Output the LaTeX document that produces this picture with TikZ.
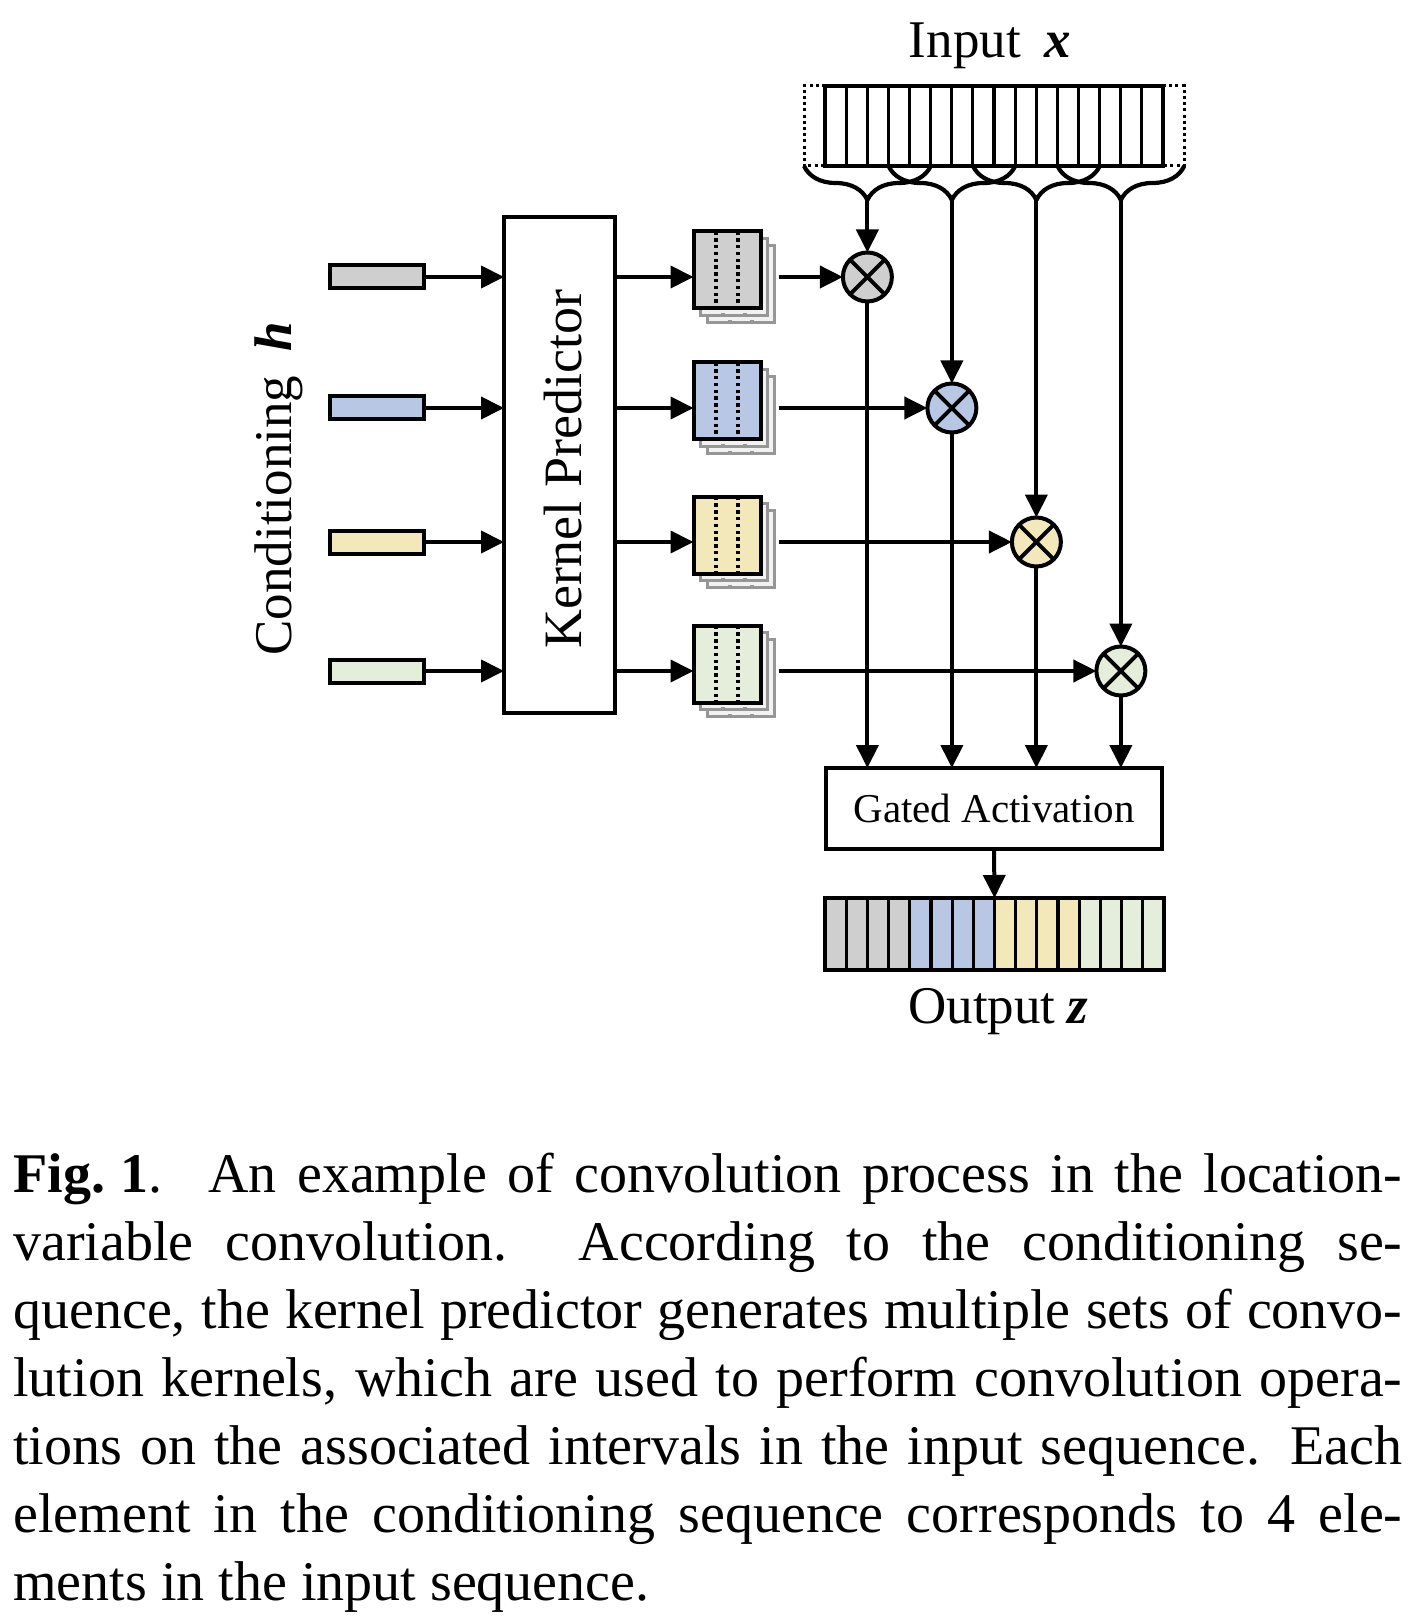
\documentclass[tikz,border=0pt]{standalone}
\usepackage{fontspec}
\setmainfont{Liberation Serif}
\usepackage{graphicx}
\usetikzlibrary{arrows.meta,calc,decorations.pathreplacing}
\definecolor{kgray}{RGB}{208,207,208}
\definecolor{kblue}{RGB}{183,199,228}
\definecolor{kyellow}{RGB}{242,232,185}
\definecolor{kgreen}{RGB}{229,238,218}
\definecolor{sheetline}{RGB}{150,150,150}
\definecolor{sheetfill}{RGB}{242,242,242}
\tikzset{
  wire/.style={line width=2pt},
  arr/.style={wire,-{Triangle[length=11.5pt,width=11pt]}},
  cell/.style={line width=1.6pt},
  pad/.style={line width=1.5pt,dash pattern=on 1.5pt off 1.6pt},
  brace/.style={line width=2.1pt,decorate,decoration={brace,mirror,amplitude=17pt}},
  seqbox/.style={draw,line width=1.6pt,inner sep=0pt,outer sep=0pt},
  condbar/.style={draw,line width=2pt,minimum width=47pt,minimum height=11.5pt,inner sep=0pt,outer sep=0pt},
  kernbox/.style={draw,line width=2pt,minimum width=33.5pt,minimum height=38.5pt,inner sep=0pt,outer sep=0pt},
  kernsheet/.style={draw=sheetline,fill=sheetfill,line width=1.3pt,minimum width=33.5pt,minimum height=38.5pt,inner sep=0pt,outer sep=0pt},
  mulnode/.style={draw,circle,line width=2pt,minimum size=24.5pt,inner sep=0pt,outer sep=0pt},
  bigtext/.style={inner sep=0pt,font=\fontsize{26.5}{30}\selectfont},
  capline/.style={anchor=base west,inner sep=0pt,font=\fontsize{28}{34}\selectfont},
}
% dotted kernel taps at one and two thirds of a kernel sheet
\newcommand{\kerndots}[2]{%
  \draw[#2,line width=1.7pt,dash pattern=on 1.7pt off 1.7pt]
    ($(#1.north west)!1/3!(#1.north east)$) -- ($(#1.south west)!1/3!(#1.south east)$)
    ($(#1.north west)!2/3!(#1.north east)$) -- ($(#1.south west)!2/3!(#1.south east)$);}
\begin{document}
\begin{tikzpicture}[x=0.5pt,y=-0.5pt]
\fill[white] (0,0) rectangle (1424,1620);
\useasboundingbox (0,0) rectangle (1424,1620);
% Drawing input sequence
\node[bigtext,anchor=base] (inlabel) at (990,58) {Input\hspace{0.45em}\textbf{\textit{x}}};
\draw[pad] (825,86) -- (804,86) -- (804,166) -- (825,166);
\draw[pad] (1163,86) -- (1184,86) -- (1184,166) -- (1163,166);
\node[seqbox,minimum width=169pt,minimum height=40pt] (in) at (994,126) {};
\draw[cell] (846.125,86) -- (846.125,166) (867.25,86) -- (867.25,166) (888.375,86) -- (888.375,166)
  (909.5,86) -- (909.5,166) (930.625,86) -- (930.625,166) (951.75,86) -- (951.75,166)
  (972.875,86) -- (972.875,166) (994,86) -- (994,166) (1015.125,86) -- (1015.125,166)
  (1036.25,86) -- (1036.25,166) (1057.375,86) -- (1057.375,166) (1078.5,86) -- (1078.5,166)
  (1099.625,86) -- (1099.625,166) (1120.75,86) -- (1120.75,166) (1141.875,86) -- (1141.875,166);
% Windows of six cells, stride four
\draw[brace] (804,166) -- (930.75,166);
\draw[brace] (888.5,166) -- (1015.25,166);
\draw[brace] (973,166) -- (1099.75,166);
\draw[brace] (1057.5,166) -- (1184.25,166);
\coordinate (tip1) at (867.375,200);
\coordinate (tip2) at (951.875,200);
\coordinate (tip3) at (1036.375,200);
\coordinate (tip4) at (1120.875,200);
% Done with input; drawing conditioning and kernel predictor
\node[bigtext] (condlabel) at (279,489) {\rotatebox{90}{Conditioning\hspace{0.45em}\textbf{\textit{h}}}};
\node[condbar,fill=kgray] (cond1) at (377,277) {};
\node[condbar,fill=kblue] (cond2) at (377,408) {};
\node[condbar,fill=kyellow] (cond3) at (377,542) {};
\node[condbar,fill=kgreen] (cond4) at (377,671) {};
\node[draw,line width=2pt,minimum width=55.5pt,minimum height=248pt,inner sep=0pt,outer sep=0pt] (kp) at (559.5,465) {};
\node[bigtext,font=\fontsize{27}{30}\selectfont] (kplabel) at (563,469) {\rotatebox{90}{Kernel Predictor}};
\draw[arr] (cond1.east) -- (kp.west |- cond1);
\draw[arr] (cond2.east) -- (kp.west |- cond2);
\draw[arr] (cond3.east) -- (kp.west |- cond3);
\draw[arr] (cond4.east) -- (kp.west |- cond4);
% Row 1: gray kernels
\node[kernsheet] (kern1b) at (741,284) {}; \kerndots{kern1b}{sheetline}
\node[kernsheet] (kern1a) at (734,277) {}; \kerndots{kern1a}{sheetline}
\node[kernbox,fill=kgray] (kern1) at (727,270) {}; \kerndots{kern1}{black}
% Row 2: blue kernels
\node[kernsheet] (kern2b) at (741,415) {}; \kerndots{kern2b}{sheetline}
\node[kernsheet] (kern2a) at (734,408) {}; \kerndots{kern2a}{sheetline}
\node[kernbox,fill=kblue] (kern2) at (727,401) {}; \kerndots{kern2}{black}
% Row 3: yellow kernels
\node[kernsheet] (kern3b) at (741,549) {}; \kerndots{kern3b}{sheetline}
\node[kernsheet] (kern3a) at (734,542) {}; \kerndots{kern3a}{sheetline}
\node[kernbox,fill=kyellow] (kern3) at (727,535) {}; \kerndots{kern3}{black}
% Row 4: green kernels
\node[kernsheet] (kern4b) at (741,678) {}; \kerndots{kern4b}{sheetline}
\node[kernsheet] (kern4a) at (734,671) {}; \kerndots{kern4a}{sheetline}
\node[kernbox,fill=kgreen] (kern4) at (727,664) {}; \kerndots{kern4}{black}
\draw[arr] (kp.east |- cond1) -- (kern1.west |- cond1);
\draw[arr] (kp.east |- cond2) -- (kern2.west |- cond2);
\draw[arr] (kp.east |- cond3) -- (kern3.west |- cond3);
\draw[arr] (kp.east |- cond4) -- (kern4.west |- cond4);
% Done with kernels; drawing products
\node[mulnode,fill=kgray] (mul1) at (867.375,277) {};
\node[mulnode,fill=kblue] (mul2) at (951.875,408) {};
\node[mulnode,fill=kyellow] (mul3) at (1036.375,542) {};
\node[mulnode,fill=kgreen] (mul4) at (1120.875,671) {};
\draw[wire] (mul1.45) -- (mul1.225) (mul1.135) -- (mul1.315);
\draw[wire] (mul2.45) -- (mul2.225) (mul2.135) -- (mul2.315);
\draw[wire] (mul3.45) -- (mul3.225) (mul3.135) -- (mul3.315);
\draw[wire] (mul4.45) -- (mul4.225) (mul4.135) -- (mul4.315);
\draw[arr,shorten <=2pt] (kern1b.east |- cond1) -- (mul1.west);
\draw[arr,shorten <=2pt] (kern2b.east |- cond2) -- (mul2.west);
\draw[arr,shorten <=2pt] (kern3b.east |- cond3) -- (mul3.west);
\draw[arr,shorten <=2pt] (kern4b.east |- cond4) -- (mul4.west);
\draw[arr] (tip1) -- (mul1.north);
\draw[arr] (tip2) -- (mul2.north);
\draw[arr] (tip3) -- (mul3.north);
\draw[arr] (tip4) -- (mul4.north);
% Done with products; drawing gate and output
\node[draw,line width=2pt,minimum width=168pt,minimum height=40.5pt,inner sep=0pt,outer sep=0pt,
  font=\fontsize{20.5}{24}\selectfont] (gate) at (994,808.5) {Gated Activation};
\draw[arr] (mul1.south) -- (mul1.south |- gate.north);
\draw[arr] (mul2.south) -- (mul2.south |- gate.north);
\draw[arr] (mul3.south) -- (mul3.south |- gate.north);
\draw[arr] (mul4.south) -- (mul4.south |- gate.north);
\fill[kgray] (825,898) rectangle (909.75,970);
\fill[kblue] (909.75,898) rectangle (994.5,970);
\fill[kyellow] (994.5,898) rectangle (1079.25,970);
\fill[kgreen] (1079.25,898) rectangle (1164,970);
\draw[cell] (846.19,898) -- (846.19,970) (867.38,898) -- (867.38,970) (888.56,898) -- (888.56,970)
  (909.75,898) -- (909.75,970) (930.94,898) -- (930.94,970) (952.13,898) -- (952.13,970)
  (973.31,898) -- (973.31,970) (994.5,898) -- (994.5,970) (1015.69,898) -- (1015.69,970)
  (1036.88,898) -- (1036.88,970) (1058.06,898) -- (1058.06,970) (1079.25,898) -- (1079.25,970)
  (1100.44,898) -- (1100.44,970) (1121.63,898) -- (1121.63,970) (1142.81,898) -- (1142.81,970);
\node[seqbox,minimum width=169.5pt,minimum height=36pt] (out) at (994.5,934) {};
\draw[arr] (gate.south) -- (out.north);
\node[bigtext,anchor=base] (outlabel) at (998,1023) {Output\hspace{0.22em}\textbf{\textit{z}}};
% Done with diagram; drawing caption
\node[capline] (cap1) at (13,1192) {\makebox[694.5pt][s]{\textbf{Fig.\kern0.27em1}.\hspace{0.15em} An example of convolution process in the location-}};
\node[capline] (cap2) at (13,1260) {\makebox[694.5pt][s]{variable convolution. According to the conditioning se-}};
\node[capline] (cap3) at (13,1328) {\makebox[694.5pt][s]{quence, the kernel predictor generates multiple sets of convo-}};
\node[capline] (cap4) at (13,1396) {\makebox[694.5pt][s]{lution kernels, which are used to perform convolution opera-}};
\node[capline] (cap5) at (13,1464) {\makebox[694.5pt][s]{tions on the associated intervals in the input sequence. Each}};
\node[capline] (cap6) at (13,1532) {\makebox[694.5pt][s]{element in the conditioning sequence corresponds to 4 ele-}};
\node[capline] (cap7) at (13,1600) {ments in the input sequence.};
\end{tikzpicture}
\end{document}
